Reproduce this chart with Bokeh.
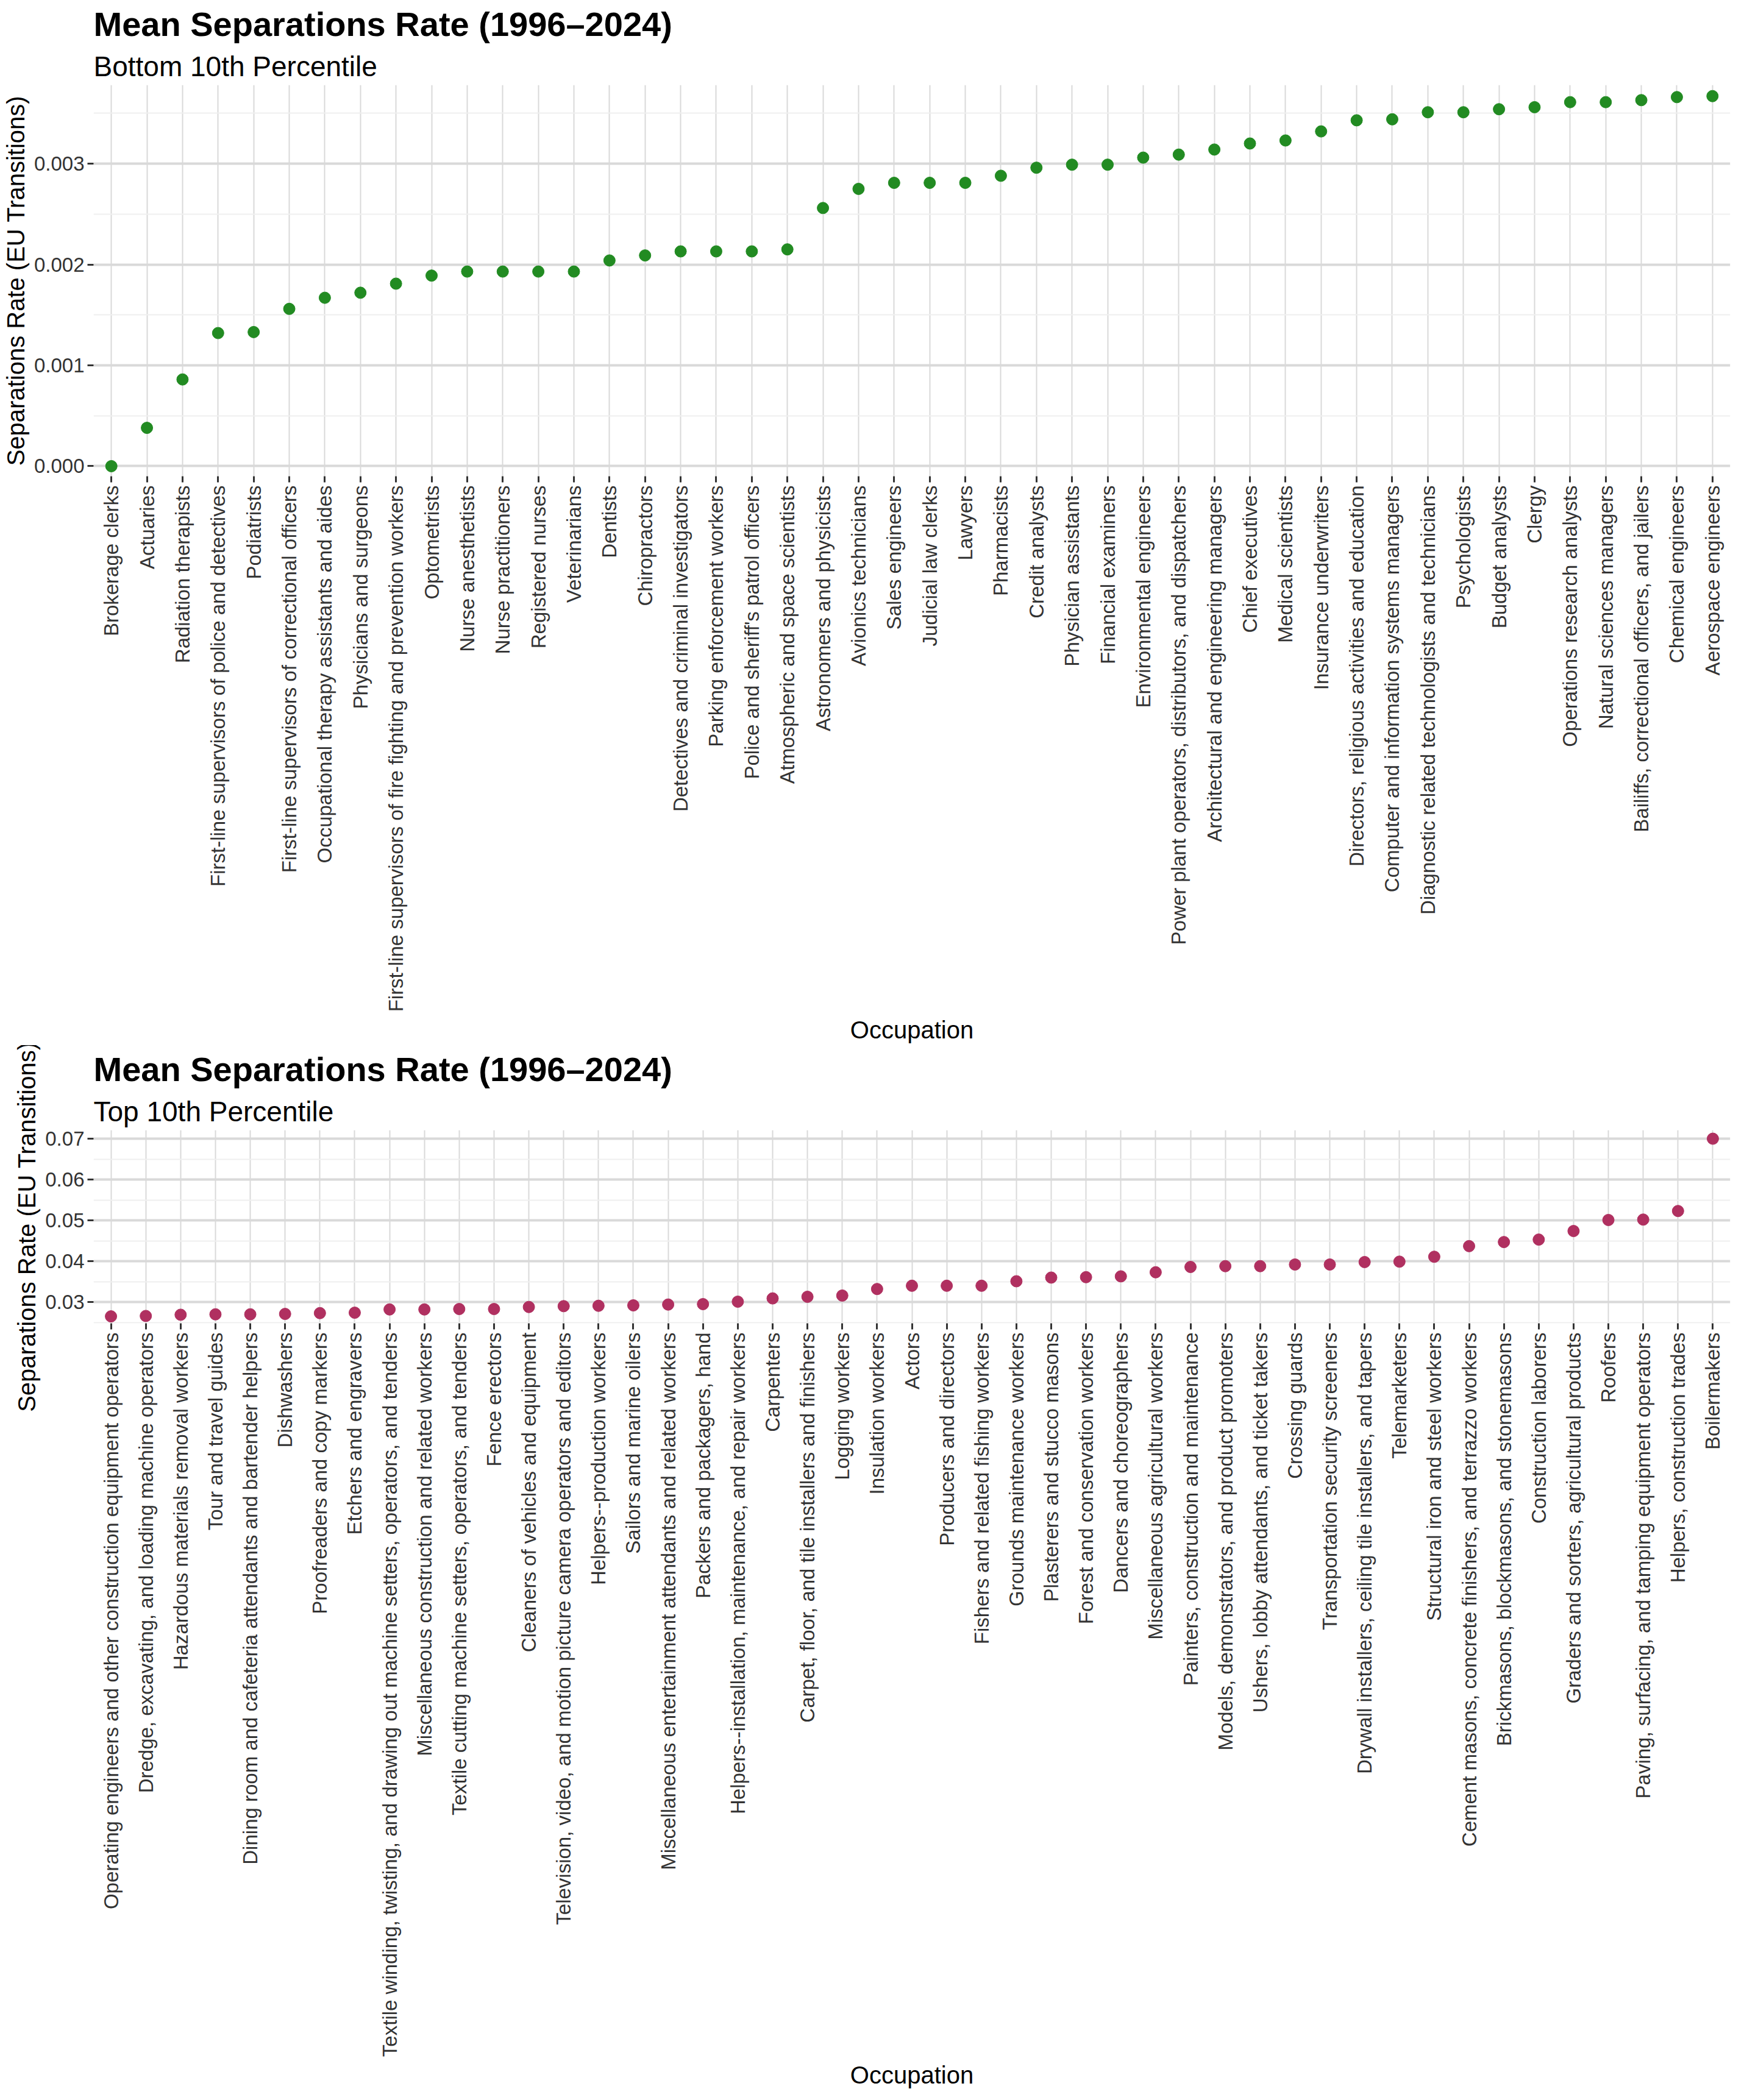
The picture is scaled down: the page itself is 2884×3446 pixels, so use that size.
import math
from bokeh.plotting import figure
from bokeh.models import Title, FixedTicker, NumeralTickFormatter, Range1d
from bokeh.layouts import column
from bokeh.embed import file_html
from bokeh.resources import INLINE

# Bottom 10th percentile
bottom_jobs = [
    "Brokerage clerks", "Actuaries", "Radiation therapists",
    "First-line supervisors of police and detectives", "Podiatrists",
    "First-line supervisors of correctional officers",
    "Occupational therapy assistants and aides", "Physicians and surgeons",
    "First-line supervisors of fire fighting and prevention workers",
    "Optometrists", "Nurse anesthetists", "Nurse practitioners",
    "Registered nurses", "Veterinarians", "Dentists", "Chiropractors",
    "Detectives and criminal investigators", "Parking enforcement workers",
    "Police and sheriff's patrol officers", "Atmospheric and space scientists",
    "Astronomers and physicists", "Avionics technicians", "Sales engineers",
    "Judicial law clerks", "Lawyers", "Pharmacists", "Credit analysts",
    "Physician assistants", "Financial examiners", "Environmental engineers",
    "Power plant operators, distributors, and dispatchers",
    "Architectural and engineering managers", "Chief executives",
    "Medical scientists", "Insurance underwriters",
    "Directors, religious activities and education",
    "Computer and information systems managers",
    "Diagnostic related technologists and technicians", "Psychologists",
    "Budget analysts", "Clergy", "Operations research analysts",
    "Natural sciences managers", "Bailiffs, correctional officers, and jailers",
    "Chemical engineers", "Aerospace engineers",
]
bottom_rate = [
    0.0, 0.00038, 0.00086, 0.00132, 0.00133, 0.00156, 0.00167, 0.00172,
    0.00181, 0.00189, 0.00193, 0.00193, 0.00193, 0.00193, 0.00204, 0.00209,
    0.00213, 0.00213, 0.00213, 0.00215, 0.00256, 0.00275, 0.00281, 0.00281,
    0.00281, 0.00288, 0.00296, 0.00299, 0.00299, 0.00306, 0.00309, 0.00314,
    0.0032, 0.00323, 0.00332, 0.00343, 0.00344, 0.00351, 0.00351, 0.00354,
    0.00356, 0.00361, 0.00361, 0.00363, 0.00366, 0.00367,
]

# Top 10th percentile
top_jobs = [
    "Operating engineers and other construction equipment operators",
    "Dredge, excavating, and loading machine operators",
    "Hazardous materials removal workers", "Tour and travel guides",
    "Dining room and cafeteria attendants and bartender helpers",
    "Dishwashers", "Proofreaders and copy markers", "Etchers and engravers",
    "Textile winding, twisting, and drawing out machine setters, operators, and tenders",
    "Miscellaneous construction and related workers",
    "Textile cutting machine setters, operators, and tenders",
    "Fence erectors", "Cleaners of vehicles and equipment",
    "Television, video, and motion picture camera operators and editors",
    "Helpers--production workers", "Sailors and marine oilers",
    "Miscellaneous entertainment attendants and related workers",
    "Packers and packagers, hand",
    "Helpers--installation, maintenance, and repair workers", "Carpenters",
    "Carpet, floor, and tile installers and finishers", "Logging workers",
    "Insulation workers", "Actors", "Producers and directors",
    "Fishers and related fishing workers", "Grounds maintenance workers",
    "Plasterers and stucco masons", "Forest and conservation workers",
    "Dancers and choreographers", "Miscellaneous agricultural workers",
    "Painters, construction and maintenance",
    "Models, demonstrators, and product promoters",
    "Ushers, lobby attendants, and ticket takers", "Crossing guards",
    "Transportation security screeners",
    "Drywall installers, ceiling tile installers, and tapers", "Telemarketers",
    "Structural iron and steel workers",
    "Cement masons, concrete finishers, and terrazzo workers",
    "Brickmasons, blockmasons, and stonemasons", "Construction laborers",
    "Graders and sorters, agricultural products", "Roofers",
    "Paving, surfacing, and tamping equipment operators",
    "Helpers, construction trades", "Boilermakers",
]
top_rate = [
    0.0265, 0.0266, 0.0269, 0.0270, 0.0270, 0.0271, 0.0273, 0.0274, 0.0282,
    0.0282, 0.0283, 0.0283, 0.0288, 0.0290, 0.0291, 0.0292, 0.0294, 0.0295,
    0.0301, 0.0309, 0.0313, 0.0316, 0.0332, 0.0340, 0.0340, 0.0340, 0.0351,
    0.0360, 0.0361, 0.0363, 0.0373, 0.0386, 0.0388, 0.0388, 0.0392, 0.0392,
    0.0398, 0.0399, 0.0411, 0.0437, 0.0447, 0.0453, 0.0474, 0.0501, 0.0502,
    0.0523, 0.0700,
]

FONT = "Liberation Sans"


def make_panel(jobs, rates, subtitle, color, yr, ticks, minor, fmt):
    p = figure(x_range=jobs, y_range=Range1d(*yr), width=2868, height=1715,
               output_backend="svg", toolbar_location=None,
               min_border_left=110, min_border_right=30, min_border_top=20)
    p.title = None
    p.add_layout(Title(text=subtitle, text_font=FONT, text_font_size="46px",
                       text_font_style="normal", text_color="#000000"), "above")
    p.add_layout(Title(text="Mean Separations Rate (1996\u20132024)", text_font=FONT,
                       text_font_size="56px", text_font_style="bold",
                       text_color="#000000"), "above")
    p.scatter(jobs, rates, size=19, color=color)
    p.outline_line_color = None
    p.xaxis.axis_label = "Occupation"
    p.yaxis.axis_label = "Separations Rate (EU Transitions)"
    for ax in (p.xaxis, p.yaxis):
        ax.axis_label_text_font = FONT
        ax.axis_label_text_font_size = "40px"
        ax.axis_label_text_font_style = "normal"
        ax.axis_label_text_color = "#000000"
        ax.major_label_text_font = FONT
        ax.major_label_text_font_size = "33px"
        ax.major_label_text_color = "#333333"
        ax.axis_line_color = None
        ax.major_tick_line_color = "#333333"
        ax.major_tick_line_width = 3
        ax.major_tick_out = 10
        ax.major_tick_in = 0
        ax.minor_tick_line_color = None
    p.xaxis.major_label_orientation = math.pi / 2
    p.yaxis.ticker = FixedTicker(ticks=ticks, minor_ticks=minor)
    p.yaxis.formatter = NumeralTickFormatter(format=fmt)
    p.xgrid.grid_line_color = "#d9d9d9"
    p.xgrid.grid_line_width = 2
    p.ygrid.grid_line_color = "#d9d9d9"
    p.ygrid.grid_line_width = 4
    p.ygrid.minor_grid_line_color = "#efefef"
    p.ygrid.minor_grid_line_width = 2
    return p


p1 = make_panel(bottom_jobs, bottom_rate, "Bottom 10th Percentile", "#228B22",
                (-0.0001, 0.00378), [0.0, 0.001, 0.002, 0.003],
                [0.0005, 0.0015, 0.0025, 0.0035], "0.000")
p2 = make_panel(top_jobs, top_rate, "Top 10th Percentile", "#B03060",
                (0.0248, 0.0721), [0.03, 0.04, 0.05, 0.06, 0.07],
                [0.025, 0.035, 0.045, 0.055, 0.065], "0.00")

p = column(p1, p2)
open("out.html", "w").write(file_html(p, INLINE))
